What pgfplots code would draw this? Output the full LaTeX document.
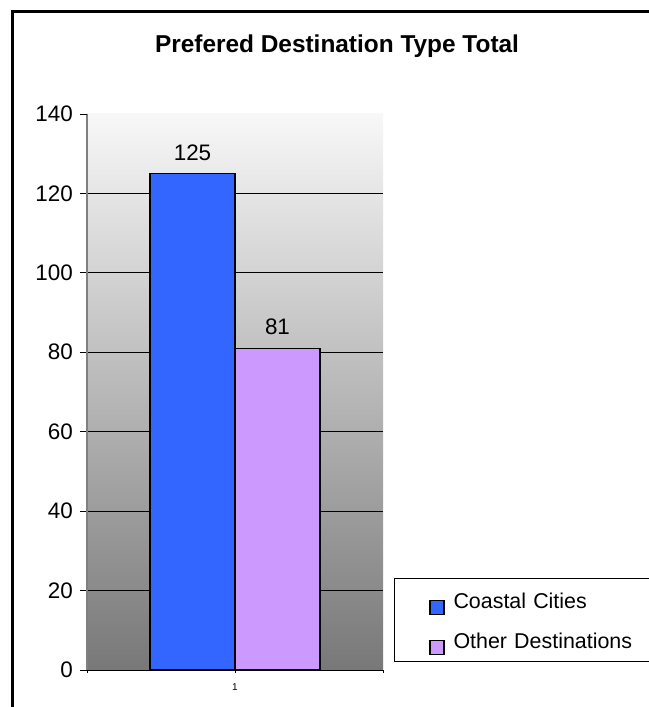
\documentclass[border=0pt]{standalone}
\usepackage{fontspec}
\setmainfont{Liberation Sans}
\usepackage{pgfplots}
\pgfplotsset{compat=1.18}
\definecolor{barblue}{HTML}{3366FF}
\definecolor{barpurple}{HTML}{CC99FF}
\begin{document}
\begin{tikzpicture}
\useasboundingbox (0,0) rectangle (649bp,707bp);
\draw[line width=2.5bp] (12.5bp,-10bp) -- (12.5bp,695.5bp) -- (670bp,695.5bp);
\node[font=\fontsize{24.5}{29}\selectfont\bfseries, anchor=base] at (337bp,654bp) {Prefered Destination Type Total};
\begin{axis}[
  at={(87bp,37bp)}, anchor=south west,
  scale only axis, width=296bp, height=556bp,
  xmin=0.5, xmax=1.5, ymin=0, ymax=140,
  ybar=0pt, bar width=85bp,
  axis x line*=bottom, axis y line*=left,
  x axis line style={black, line width=0.9bp, -},
  y axis line style={black!50, line width=1.2bp, -},
  axis background/.style={shade, top color=white!97!black, bottom color=black!53!white},
  /pgf/number format/assume math mode=true,
  tick align=outside,
  major tick length=7bp,
  ytick={0,20,...,120},
  extra y ticks={140},
  extra y tick style={grid=none},
  ymajorgrids,
  major grid style={black, line width=0.8bp},
  ytick style={black, line width=0.8bp},
  yticklabel style={font=\fontsize{22.5}{26}\selectfont, inner sep=0pt, xshift=-7bp},
  xtick={0.5,1.5},
  xticklabels={{},{}},
  xtick style={black, line width=0.8bp, /pgfplots/major tick length=3bp},
  extra x ticks={1},
  extra x tick labels={1},
  extra x tick style={/pgfplots/major tick length=0pt, grid=none,
    tick label style={font=\fontsize{10}{12}\selectfont, inner sep=0pt, yshift=-13bp}},
  nodes near coords,
  nodes near coords style={font=\fontsize{22.5}{26}\selectfont, black, anchor=south, inner sep=0pt, yshift=12.6bp},
  legend image code/.code={\draw[#1, line width=1.1bp] (0bp,-6bp) rectangle (14bp,8bp);},
  legend style={at={(rel axis cs:1.0372,0.1655)}, anchor=north west,
    draw=black, line width=0.8bp, fill=white,
    font=\fontsize{21.5}{26}\selectfont,
    inner xsep=35bp, inner ysep=6bp, row sep=9bp, column sep=9bp,
    cells={anchor=base west},
    nodes={inner sep=0pt, text height=24bp, text depth=7bp, text width=200bp, align=left}},
]
\addplot[draw=black, line width=1.2bp, fill=barblue] coordinates {(1,125)};
\addlegendentry{Coastal Cities}
\addplot[draw=black, line width=1.2bp, fill=barpurple] coordinates {(1,81)};
\addlegendentry{Other Destinations}
\end{axis}
\end{tikzpicture}
\end{document}
